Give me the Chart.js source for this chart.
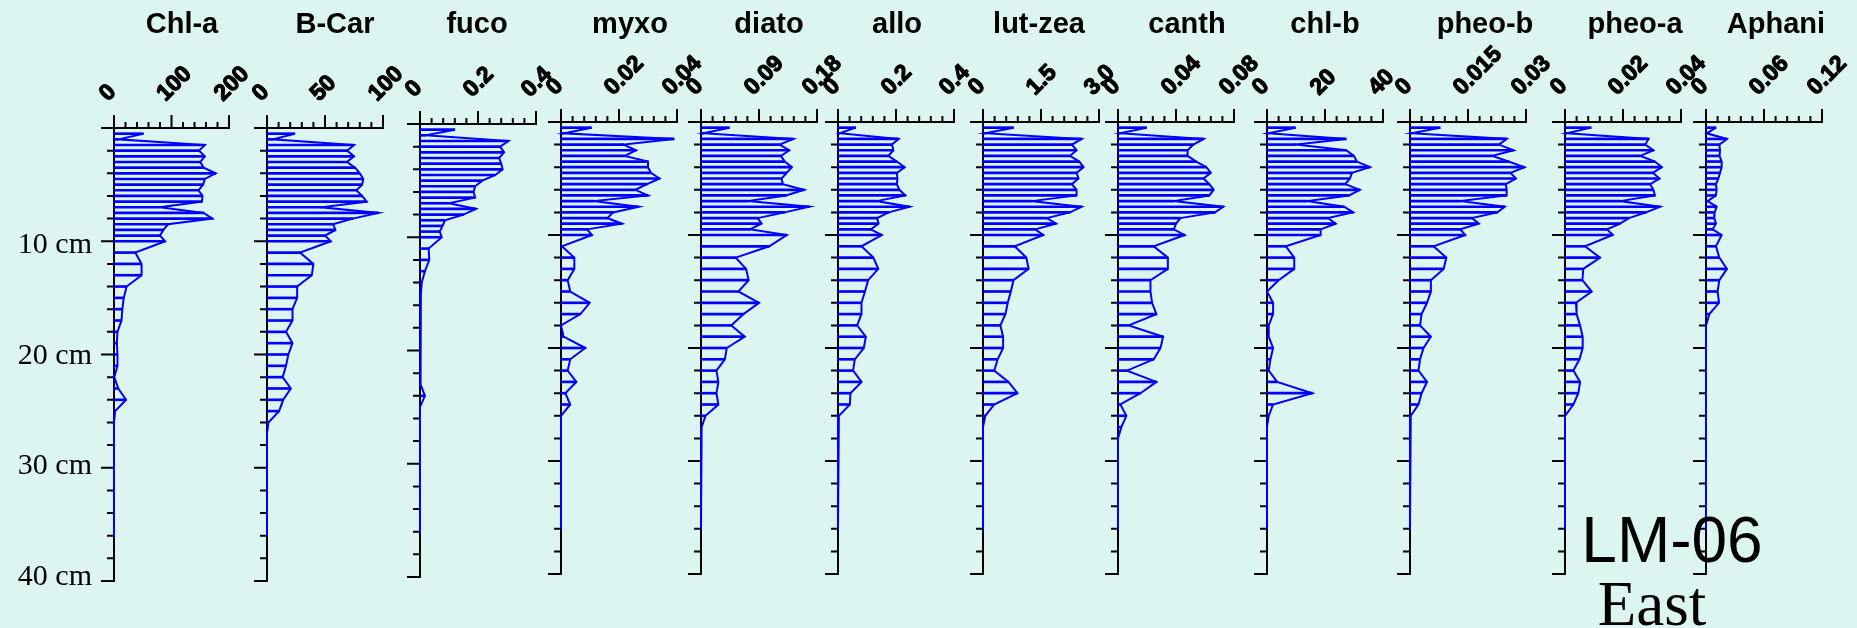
<!DOCTYPE html>
<html><head><meta charset="utf-8">
<script src="https://cdn.jsdelivr.net/npm/chart.js@4.4.1/dist/chart.umd.min.js"></script>
<style>
html,body{margin:0;padding:0;background:#DDF5F1;width:1857px;height:628px;overflow:hidden}
#wrap{position:relative;width:1857px;height:628px}
canvas{position:absolute;left:0;top:0}
</style></head><body><div id="wrap"></div>
<script>
// ---------- DATA ----------
const depthCm = [0.5,1,1.5,2,2.5,3,3.5,4,4.5,5,5.5,6,6.5,7,7.5,8,8.5,9,9.5,10,
  11,12,13,14,15,16,17,18,19,20,21,22,23,24,25,26,27,28,29,30,31,32,33,34,35,36];
const depthMax = 40;
const depthLabels = ["10 cm","20 cm","30 cm","40 cm"];

const panelNames = ["Chl-a","B-Car","fuco","myxo","diato","allo","lut-zea","canth","chl-b","pheo-b","pheo-a","Aphani"];
const panelMax = [200,100,0.4,0.04,0.18,0.4,3.0,0.08,40,0.03,0.04,0.12];
const tickLabels = [
  ["0","100","200"],["0","50","100"],["0","0.2","0.4"],["0","0.02","0.04"],
  ["0","0.09","0.18"],["0","0.2","0.4"],["0","1.5","3.0"],["0","0.04","0.08"],
  ["0","20","40"],["0","0.015","0.03"],["0","0.02","0.04"],["0","0.06","0.12"]
];

const chlA = [51,8,158,148,158,150,156,177,158,155,147,154,153,80,156,171,94,86,80,89,
  37,48,48,22,17,14.5,13,6,5,6,6,0.5,7.5,21,2,0,0,0,0,0,0,0,0,0,0,0];
const bCar = [24,5,75,69,75,69,76,80,83,82,77,82,86,47,96,74,57,59,50,55,
  28.5,40,38.6,26,26,22,22,16.4,22,18.4,16.4,13.5,20.5,14,10.4,1.2,0,0,0,0,0,0,0,0,0,0];
const fuco = [0.12,0.02,0.305,0.276,0.29,0.273,0.28,0.285,0.26,0.215,0.19,0.185,0.19,0.10,0.193,0.15,0.086,0.078,0.068,0.075,
  0.03,0.032,0.017,0.006,0.003,0.002,0.002,0.002,0.002,0.002,0.002,0.002,0.002,0.017,0,0,0,0,0,0,0,0,0,0,0,0];
const myxo = [0.0105,0.001,0.039,0.0216,0.0259,0.022,0.030,0.030,0.031,0.034,0.0297,0.0256,0.030,0.0113,0.0268,0.018,0.016,0.021,0.009,0.0107,
  0.0003,0.0046,0.0046,0.0023,0.0032,0.0099,0.0067,0,0.0009,0.0084,0.0032,0.0023,0.0053,0.0015,0.0032,0,0,0,0,0,0,0,0,0,0,0];
const diato = [0.044,0.004,0.143,0.122,0.137,0.124,0.13,0.141,0.133,0.125,0.127,0.16,0.132,0.073,0.168,0.13,0.088,0.094,0.076,0.133,
  0.106,0.054,0.070,0.074,0.058,0.090,0.066,0.047,0.068,0.040,0.037,0.024,0.027,0.024,0.027,0.007,0.001,0,0,0,0,0,0,0,0,0];
const allo = [0.061,0.006,0.209,0.186,0.191,0.174,0.203,0.23,0.203,0.205,0.203,0.212,0.232,0.133,0.247,0.175,0.135,0.14,0.113,0.151,
  0.081,0.122,0.139,0.104,0.093,0.081,0.081,0.066,0.096,0.089,0.058,0.052,0.081,0.043,0.041,0.003,0,0,0,0,0,0,0,0,0,0];
const lutZea = [0.79,0.06,2.55,2.30,2.42,2.25,2.49,2.60,2.42,2.47,2.30,2.42,2.42,1.26,2.55,2.25,1.65,1.89,1.35,1.56,
  0.82,1.12,1.18,0.79,0.72,0.64,0.58,0.45,0.52,0.52,0.38,0.29,0.66,0.89,0.29,0.06,0,0,0,0,0,0,0,0,0,0];
const canth = [0.0196,0.0016,0.059,0.052,0.048,0.048,0.054,0.061,0.064,0.059,0.063,0.066,0.063,0.0385,0.0726,0.067,0.043,0.040,0.0385,0.046,
  0.0246,0.0344,0.0344,0.0224,0.0224,0.0235,0.0265,0.0074,0.0311,0.0293,0.0247,0.0062,0.0265,0.0155,0.0016,0.0058,0.0023,0,0,0,0,0,0,0,0,0];
const chlB = [9.8,0.5,27.3,10,27.3,30,31,35.5,29.3,28.6,27,32,28.3,13.9,26.6,29.7,21,23.7,18.5,18.5,
  6.5,9.4,9.4,4,0,2.1,2.1,0.6,0.6,2.1,1.2,0.6,3.5,15.6,2.1,0.6,0,0,0,0,0,0,0,0,0,0];
const pheoB = [0.0078,0.0004,0.025,0.023,0.0268,0.0213,0.0255,0.0296,0.026,0.0274,0.0248,0.025,0.025,0.013,0.0245,0.0226,0.016,0.0178,0.013,0.0143,
  0.0061,0.0094,0.0087,0.0054,0.0054,0.0044,0.003,0.0026,0.0054,0.0035,0.0026,0.0022,0.0044,0.003,0.0022,0.0002,0,0,0,0,0,0,0,0,0,0];
const pheoA = [0.009,0.0006,0.0288,0.0277,0.0305,0.026,0.031,0.0334,0.0303,0.0326,0.0294,0.0305,0.031,0.019,0.0328,0.028,0.022,0.019,0.0145,0.0165,
  0.0069,0.0121,0.0063,0.006,0.0092,0.0038,0.004,0.0052,0.0061,0.0061,0.005,0.0029,0.0052,0.0046,0.0029,0,0,0,0,0,0,0,0,0,0,0];
const aphani = [0.0103,0.0007,0.0217,0.0138,0.0145,0.014,0.0162,0.0162,0.0145,0.0128,0.0103,0.011,0.0103,0.0017,0.011,0.009,0.0086,0.0103,0.0069,0.0162,
  0.0103,0.0138,0.0217,0.0138,0.012,0.0135,0.0035,0,0,0,0,0,0,0,0,0,0,0,0,0,0,0,0,0,0,0];

const seriesValues = [chlA,bCar,fuco,myxo,diato,allo,lutZea,canth,chlB,pheoB,pheoA,aphani];

// ---------- LAYOUT ----------
const W = 1857, H = 628;
const panelLeft   = [114,267,420,561,701,838,983,1118,1267,1410,1565,1706];
const panelRight  = [229,383,536,677,817,954,1099,1234,1383,1526,1681,1822];
const panelTop    = [128,128,124,122,122,122,122,122,122,122,122,122];
const panelBottom = [581,581,577,574,574,574,574,574,574,574,574,574];
const titleX      = [182,335,477,630,769,897,1039,1187,1325,1485,1635,1776];

const BLUE = '#0000FF';
const wrap = document.getElementById('wrap');

function makeDeco(i){
  return {
    id: 'deco' + i,
    beforeDatasetsDraw(chart){
      const ctx = chart.ctx, xs = chart.scales.x, ys = chart.scales.y;
      const max = panelMax[i];
      const x0 = xs.getPixelForValue(0), x1 = xs.getPixelForValue(max);
      const y0 = ys.getPixelForValue(0), y1 = ys.getPixelForValue(depthMax);
      ctx.save();
      ctx.strokeStyle = '#000'; ctx.lineWidth = 2; ctx.lineCap = 'butt';
      ctx.beginPath();
      ctx.moveTo(x0 - 13, y0); ctx.lineTo(x1 + 1, y0);
      ctx.moveTo(x0, y0 - 13); ctx.lineTo(x0, y1 + 1);
      for (let k = 1; k <= 10; k++) {
        const px = xs.getPixelForValue(max * k / 10);
        const len = (k % 5 === 0) ? 13 : 6;
        ctx.moveTo(px, y0); ctx.lineTo(px, y0 - len);
      }
      for (let d = 2; d <= depthMax; d += 2) {
        const py = ys.getPixelForValue(d);
        const len = (d % 10 === 0) ? 13 : 7;
        ctx.moveTo(x0, py); ctx.lineTo(x0 - len, py);
      }
      ctx.stroke();
      ctx.restore();
    },
    afterDraw(chart){
      const ctx = chart.ctx, xs = chart.scales.x, ys = chart.scales.y;
      const y0 = ys.getPixelForValue(0);
      ctx.save();
      ctx.fillStyle = '#000';
      // title
      ctx.font = "bold 29px 'Liberation Sans', Arial, sans-serif";
      ctx.textAlign = 'center'; ctx.textBaseline = 'alphabetic';
      ctx.fillText(panelNames[i], titleX[i], 33);
      // rotated tick labels
      ctx.font = "bold 23px 'Liberation Sans', Arial, sans-serif";
      ctx.textAlign = 'left';
      ctx.strokeStyle = '#000'; ctx.lineWidth = 1.2; ctx.lineJoin = 'round';
      tickLabels[i].forEach(lab => {
        const px = xs.getPixelForValue(parseFloat(lab));
        ctx.save();
        ctx.translate(px - 6, y0 - 26);
        ctx.rotate(-Math.PI / 4);
        ctx.fillText(lab, 0, 0);
        ctx.strokeText(lab, 0, 0);
        ctx.restore();
      });
      if (i === 0) {
        ctx.font = "30px 'Liberation Serif', 'Times New Roman', serif";
        ctx.textAlign = 'right';
        depthLabels.forEach(lab => {
          const d = parseFloat(lab);
          const cy = ys.getPixelForValue(d) + 1.7 - (d - 10) * 0.25;
          ctx.fillText(lab, 92, cy + 10);
        });
      }
      if (i === panelNames.length - 1) {
        ctx.textAlign = 'center';
        ctx.font = "64px 'Liberation Sans', Arial, sans-serif";
        ctx.fillText('LM-06', 1672, 562);
        ctx.font = "63px 'Liberation Serif', 'Times New Roman', serif";
        ctx.fillText('East', 1652, 625);
      }
      ctx.restore();
    }
  };
}

panelNames.forEach((name, i) => {
  const cv = document.createElement('canvas');
  cv.width = W; cv.height = H;
  wrap.appendChild(cv);
  const pts = depthCm.map((d, k) => ({ x: seriesValues[i][k], y: d }));
  new Chart(cv, {
    type: 'bar',
    data: {
      datasets: [
        { type: 'line', data: pts, borderColor: BLUE, borderWidth: 2, pointRadius: 0,
          tension: 0, fill: false, clip: false, order: 0, borderJoinStyle: 'miter' },
        { type: 'bar', data: pts, backgroundColor: BLUE, borderWidth: 0,
          barThickness: 2, clip: false, order: 1 }
      ]
    },
    options: {
      indexAxis: 'y',
      responsive: false,
      animation: false,
      events: [],
      devicePixelRatio: 1,
      layout: { padding: { left: panelLeft[i], right: W - panelRight[i], top: panelTop[i], bottom: H - panelBottom[i] } },
      plugins: { legend: { display: false }, tooltip: { enabled: false }, title: { display: false } },
      scales: {
        x: { type: 'linear', position: 'top', min: 0, max: panelMax[i], display: false, offset: false },
        y: { type: 'linear', min: 0, max: depthMax, reverse: true, display: false, offset: false }
      }
    },
    plugins: [makeDeco(i)]
  });
});
</script></body></html>
